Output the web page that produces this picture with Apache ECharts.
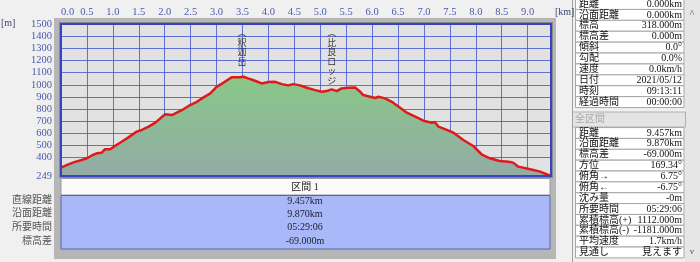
<!DOCTYPE html>
<html><head><meta charset="utf-8">
<script src="https://cdn.jsdelivr.net/npm/echarts@6/dist/echarts.min.js"></script>
<style>html,body{margin:0;padding:0;background:#f0f0f0}#c{width:700px;height:262px}</style>
</head><body><div id="c"></div>
<script>
// ---- data ----
const distKm = [0.00,0.14,0.27,0.40,0.50,0.60,0.69,0.78,0.85,0.95,1.04,1.17,1.30,1.46,1.56,1.69,1.82,1.94,2.01,2.14,2.17,2.27,2.36,2.49,2.62,2.75,2.88,3.00,3.13,3.29,3.45,3.52,3.61,3.74,3.87,4.00,4.13,4.26,4.38,4.48,4.61,4.74,4.90,5.03,5.12,5.22,5.32,5.41,5.54,5.67,5.77,5.83,5.96,6.06,6.12,6.25,6.38,6.54,6.67,6.83,6.99,7.15,7.21,7.28,7.44,7.57,7.76,7.95,8.11,8.27,8.46,8.63,8.72,8.82,9.05,9.24,9.45];
const elevM = [318,345,365,381,395,420,436,440,469,469,496,531,567,614,628,655,688,732,757,751,743,778,798,833,860,896,929,983,1016,1061,1061,1066,1052,1033,1011,1022,1024,1005,995,1005,995,975,956,942,948,962,948,970,975,978,942,915,901,891,901,888,860,811,770,737,704,688,693,655,628,605,545,496,428,395,373,367,359,326,305,285,249];
const yTickValues = [249,400,500,600,700,800,900,1000,1100,1200,1300,1400,1500];
const xMin = 0, xMax = 9.45, xStep = 0.5;
const yMin = 249, yMax = 1500;
const placeNames = ['釈迦岳','比良ロッジ'];
const placeKm = [3.49,5.22];
const placeTopElev = [1468,1468];
const sectionTitle = '区間 1';
const sectionLabels = ['直線距離','沿面距離','所要時間','標高差'];
const sectionValues = ['9.457km','9.870km','05:29:06','-69.000m'];
const pointLabels = ['距離','沿面距離','標高','標高差','傾斜','勾配','速度','日付','時刻','経過時間'];
const pointValues = ['0.000km','0.000km','318.000m','0.000m','0.0°','0.0%','0.0km/h','2021/05/12','09:13:11','00:00:00'];
const totalTitle = '全区間';
const totalLabels = ['距離','沿面距離','標高差','方位','俯角→','俯角←','沈み量','所要時間','累積標高(+)','累積標高(-)','平均速度','見通し'];
const totalValues = ['9.457km','9.870km','-69.000m','169.34°','6.75°','-6.75°','-0m','05:29:06','1112.000m','-1181.000m','1.7km/h','見えます'];

// ---- styling ----
const FONT = '"Liberation Serif","Noto Sans CJK JP",serif';
const AXIS_COL = '#4c5aa8';
const GRID = {left:61, top:24, width:490, height:152};

function txt(text, x, y, opt) {
  opt = opt || {};
  const a = opt.align || 'left', va = opt.va || 'middle';
  return {type:'text', x:x, y:y, z: opt.z || 100, silent:true,
    style:{text:text, fill:opt.color || '#111', font:(opt.size||10)+'px '+FONT,
      align:a, textAlign:a, verticalAlign:va, textVerticalAlign:va, lineHeight:opt.lh}};
}
function rect(x,y,w,h,fill,stroke,z,lw){
  return {type:'rect', z:z||-10, silent:true, shape:{x:x,y:y,width:w,height:h},
    style:{fill:fill||'none', stroke:stroke||null, lineWidth:lw||1}};
}

const g = [];
// frames
g.push(rect(54,18,502,241,'#b6b6b6',null,-20));
g.push(rect(59,22,494,156,'#8c8c8c',null,-19));
g.push(rect(GRID.left,GRID.top,GRID.width,GRID.height,'#e2e2e2',null,-18));
g.push(rect(GRID.left,GRID.top,GRID.width,GRID.height,'none','#3444c4',60,2));
// bottom section
g.push(rect(61,178.5,489,16.5,'#fbfbfb','#9a9a9a',-10));
g.push(rect(61,195.5,489,53.5,'#a8b8f8','#5664a8',-10));
g.push(txt(sectionTitle,305,187,{align:'center',color:'#222'}));
const secY = [200.5,213.8,227.3,241];
sectionLabels.forEach((s,i)=>{
  g.push(txt(s,52,secY[i],{align:'right',color:'#555'}));
  g.push(txt(sectionValues[i],305,secY[i]+0.5,{align:'center',color:'#223'}));
});
// axis unit labels
g.push(txt('[m]',1,23,{color:'#3a3f6a'}));
g.push(txt('[km]',555,12,{color:'#3a3f6a'}));
// right panel
g.push({type:'line', z:-5, silent:true, shape:{x1:572.5,y1:0,x2:572.5,y2:262}, style:{stroke:'#a0a0a0',lineWidth:1}});
g.push(rect(685,0,15,262,'#e6e6e6',null,-10));
g.push(txt('^',692,14,{align:'center',color:'#555',size:10}));
g.push(txt('v',692,252,{align:'center',color:'#555',size:9}));
pointLabels.forEach((s,i)=>{
  const cy = 4 + 10.9*i;
  g.push(rect(575.5,cy-5.45,108.5,10.9,'#ffffff','#a6a6a6',-10));
  g.push(txt(s,579,cy,{color:'#111'}));
  g.push(txt(pointValues[i],682,cy,{align:'right',color:'#111'}));
});
g.push(rect(572.5,112,113,15,'#e4e4e4','#b0b0b0',-10));
g.push(txt(totalTitle,575,119.5,{color:'#a8a8a8'}));
totalLabels.forEach((s,i)=>{
  const cy = 133 + 10.86*i;
  g.push(rect(575.5,cy-5.43,108.5,10.86,'#ffffff','#a6a6a6',-10));
  g.push(txt(s,579,cy,{color:'#111'}));
  g.push(txt(totalValues[i],682,cy,{align:'right',color:'#111'}));
});

const chart = echarts.init(document.getElementById('c'), null, {renderer:'canvas'});
chart.setOption({
  backgroundColor:'#f0f0f0',
  animation:false,
  grid:{left:GRID.left, top:GRID.top, width:GRID.width, height:GRID.height, show:false},
  xAxis:{type:'value', position:'top', min:xMin, max:xMax, interval:xStep,
    axisLine:{show:false}, axisTick:{show:false},
    axisLabel:{color:AXIS_COL, fontSize:10.5, fontFamily:FONT, margin:7,
      showMaxLabel:false, alignMinLabel:'left', formatter:v=>v.toFixed(1)},
    splitLine:{show:true, lineStyle:{color:'#4a5cd0', width:1, opacity:0.85}}},
  yAxis:{type:'value', min:yMin, max:yMax,
    axisLine:{show:false},
    axisTick:{show:false, customValues:yTickValues},
    axisLabel:{color:AXIS_COL, fontSize:10.5, fontFamily:FONT, margin:9, customValues:yTickValues,
      formatter:v=>String(v)},
    splitLine:{show:true, lineStyle:{color:'#4a5cd0', width:1, opacity:0.85}}},
  graphic: g,
  series:[{
    type:'line', data:distKm.map((d,i)=>[d,elevM[i]]), showSymbol:false, symbol:'none',
    lineStyle:{color:'#e01a1a', width:2.5},
    areaStyle:{color:new echarts.graphic.LinearGradient(0,0,0,1,[
      {offset:0,color:'#88c888'},{offset:1,color:'#93aba6'}]), opacity:1},
    markPoint:{symbol:'circle', symbolSize:0, silent:true,
      label:{show:true, position:'bottom', distance:0, color:'#333', fontSize:9,
        fontFamily:'"Noto Sans CJK JP",sans-serif', lineHeight:9.5,
        formatter:p=>'︵\n'+p.name.split('').join('\n')},
      data:placeNames.map((n,i)=>({name:n, coord:[placeKm[i], placeTopElev[i]]}))},
    z:5
  }]
});
</script></body></html>
